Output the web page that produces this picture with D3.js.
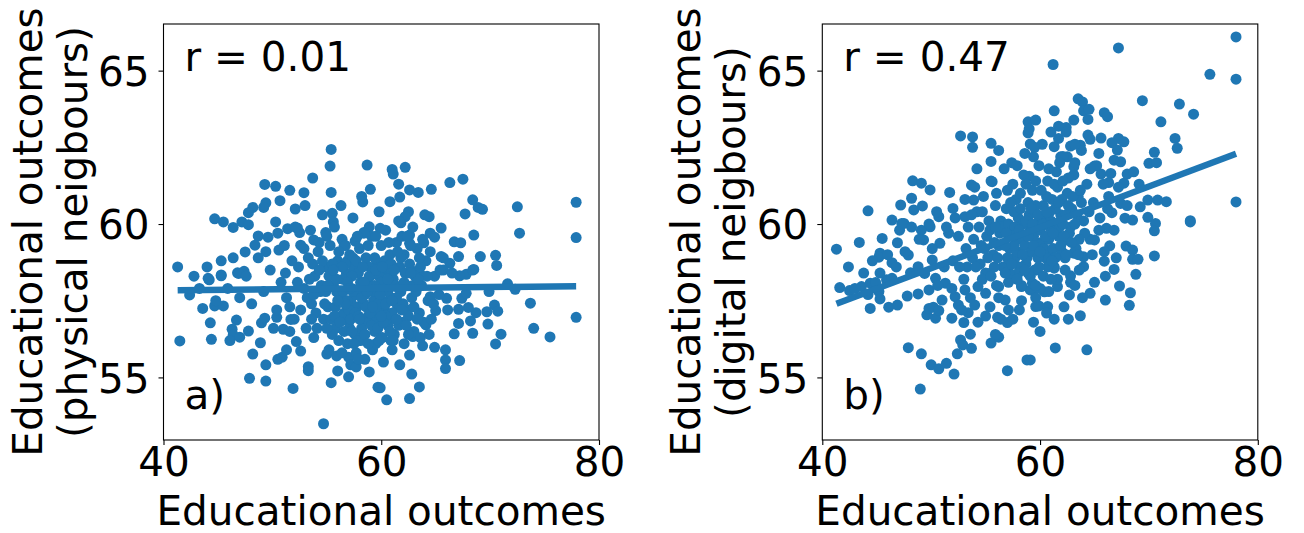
<!DOCTYPE html>
<html>
<head>
<meta charset="utf-8">
<script src="https://cdn.jsdelivr.net/npm/d3@7"></script>
<style>
  body { margin: 0; background: #fff; }
  svg text { font-family: "DejaVu Sans", sans-serif; fill: #000; }
</style>
</head>
<body>
<div id="chart"></div>
<script>
// x ticks / y ticks shared by both panels
var xTicks = [40, 60, 80];
var yTicks = [55, 60, 65];

// fitted lines
var physicalFit = { slope: 0.0035, intercept: 57.70 };
var digitalFit = { slope: 0.1332, intercept: 51.90 };

var physicalR = "r = 0.01";
var digitalR = "r = 0.47";

// panel a) : educational outcomes vs physical neighbours
var physicalPts = [
  [55.4,62.43],[55.3,61.89],[58.7,61.92],[53.7,61.5],[49.3,61.29],[50.3,61.23],[51.6,61.1],[52.9,61.02],
  [55.4,61.03],[59.0,61.13],[58.3,60.72],[50.7,60.76],[49.4,60.69],[49.2,60.54],[48.2,60.54],[47.8,60.37],
  [52.1,60.49],[55.5,60.35],[55.6,60.07],[44.7,60.17],[45.5,60.07],[46.4,59.89],[47.2,60.07],[47.8,59.98],
  [50.3,60.07],[41.3,58.6],[44.1,58.23],[45.3,58.34],[46.8,58.41],[47.4,58.46],[48.7,59.61],[48.4,59.31],
  [47.5,59.09],[49.6,59.57],[50.5,59.7],[51.4,59.85],[52.3,59.87],[52.5,59.72],[53.8,59.48],[54.9,59.72],
  [52.6,59.31],[50.6,59.15],[49.4,59.1],[56.6,59.31],[57.6,59.44],[58.4,59.72],[58.9,59.91],[56.9,58.8],
  [61.0,61.78],[61.1,61.63],[62.2,61.85],[61.6,61.3],[62.6,61.11],[63.4,61.03],[64.6,61.13],[66.3,61.35],
  [67.5,61.46],[60.8,60.73],[61.7,60.88],[68.4,60.79],[68.9,60.54],[69.3,60.48],[72.5,60.56],[77.9,60.71],
  [62.5,60.4],[62.2,60.24],[61.8,60.04],[64.4,60.24],[67.7,60.33],[65.5,59.87],[64.5,59.7],[64.9,59.57],
  [62.6,59.64],[62.6,59.37],[68.5,59.64],[72.7,59.7],[77.9,59.56],[66.7,59.42],[67.3,59.39],[63.9,59.39],
  [67.1,58.94],[69.1,58.94],[70.5,58.98],[70.6,58.65],[68.5,58.52],[63.0,58.45],[63.7,58.32],[65.5,58.94],
  [66.3,58.72],[59.9,59.86],
  [42.4,57.69],[43.6,57.25],[44.3,56.78],[41.5,56.19],[44.4,56.24],[44.7,57.33],[45.5,57.33],[46.7,56.87],
  [46.3,56.57],[46.4,56.38],[47.8,56.51],[46.1,56.2],[47.0,56.31],[48.9,56.13],[48.2,55.76],[49.4,55.41],
  [47.9,54.97],[49.4,54.88],[51.9,54.64],[54.7,53.49],[50.5,55.59],[50.9,55.66],[51.3,55.9],[53.3,55.35],
  [53.3,55.22],[52.2,56.17],[52.6,55.86],[55.0,55.76],[55.9,55.7],[55.4,54.83],[57.0,55.66],[57.2,55.41],
  [56.0,55.21],[57.0,55.02],[57.7,55.34],[58.5,55.59],[58.9,55.18],[59.7,54.68],[44.2,58.18],[45.3,58.31],
  [46.9,58.39],[49.0,56.78],[49.3,56.93],[50.4,56.96],[51.7,56.89],[51.0,56.57],
  [73.7,57.42],[77.9,56.96],[74.0,56.6],[75.5,56.32],[71.6,58.05],[72.3,57.87],[69.9,57.8],[70.4,57.36],
  [70.7,57.16],[69.7,57.14],[69.8,56.74],[71.0,56.41],[70.5,56.09],[68.4,56.44],[68.2,56.84],[68.7,57.11],
  [68.0,57.28],[67.1,57.22],[67.1,56.76],[66.7,56.42],[67.2,55.55],[65.9,55.9],[65.9,55.57],[65.9,55.29],
  [65.0,57.18],[64.1,56.71],[64.9,55.98],[63.8,56.03],[61.7,55.41],[62.8,55.11],[63.5,54.69],[62.6,54.31],
  [60.5,54.27],[59.9,54.66],[64.5,57.63],[66.0,57.58],[67.4,57.58],[67.8,57.74],[67.8,58.36],[67.2,58.31],
  [65.7,58.5],[68.4,58.5],[62.9,56.33],[62.6,55.73],
  [52.4,58.6],[52.9,57.9],[53.3,58.9],[53.6,57.4],[53.9,58.3],[54.2,59.1],[54.4,57.8],[54.7,56.9],
  [54.9,58.6],[55.1,57.3],[55.3,59.3],[55.6,58.0],[55.8,56.6],[56.0,58.8],[56.2,57.6],[56.4,59.5],
  [56.6,57.1],[56.8,58.4],[57.0,56.8],[57.1,59.0],[57.3,57.9],[57.5,58.6],[57.6,56.4],[57.8,57.3],
  [58.0,59.2],[58.1,58.1],[58.3,56.9],[58.5,57.7],[58.6,58.9],[58.8,57.0],[59.0,58.3],[59.1,59.6],
  [59.3,57.5],[59.4,56.5],[59.6,58.7],[59.7,57.9],[59.9,56.9],[60.0,59.3],[60.2,58.0],[60.3,57.2],
  [60.5,58.5],[60.6,56.7],[60.8,59.0],[60.9,57.6],[61.1,58.2],[61.2,56.4],[61.4,59.4],[61.5,57.3],
  [61.7,58.6],[61.8,57.8],[62.0,56.8],[62.1,59.0],[62.3,58.0],[62.4,57.2],[62.6,58.7],[62.8,57.6],
  [63.0,56.5],[63.1,58.3],[63.3,59.2],[63.5,57.1],[63.7,58.0],[63.9,56.8],[64.1,58.8],[64.3,57.5],
  [64.5,59.1],[52.0,56.9],[52.6,57.2],[53.1,56.6],[53.8,56.3],[54.5,58.0],[55.0,59.6],[55.4,56.9],
  [56.1,56.2],[56.7,59.3],[57.2,57.5],[57.9,56.2],[58.4,59.7],[58.9,58.6],[59.5,57.2],[60.1,56.3],
  [60.7,57.9],[61.3,56.9],[61.9,59.6],[62.5,56.4],[63.2,57.8],[63.8,59.5],[64.6,56.9],[64.9,58.3],
  [65.3,57.7],[65.7,58.9],[66.1,57.2],[66.5,58.4],[50.8,58.1],[51.3,57.6],[51.8,58.8],[51.1,59.3],
  [50.4,57.2],[49.8,58.5],[49.2,57.8],[48.7,58.9],[48.1,57.4],[47.6,58.3],[47.0,57.6],[46.4,58.9],
  [45.9,57.9],[45.3,58.8],[44.8,57.5],[44.0,58.6],[43.3,57.9],[42.8,58.3],[50.1,56.6],[51.6,56.5],
  [53.5,59.8],[55.7,59.9],[57.4,60.2],[59.8,60.4],[61.6,60.1],[56.3,60.6],[54.6,60.3],[58.2,60.9],
  [60.4,59.8],[62.9,59.9],[64.0,60.3],[52.1,59.9],[53.0,60.6],[59.2,55.9],[57.7,55.8],[61.0,55.9],
  [55.2,55.9],[56.9,56.1],
  [53.2,57.6],[53.7,58.7],[54.1,56.6],[54.3,59.4],[54.8,57.4],[55.2,58.3],[55.5,56.4],[55.9,57.8],
  [56.1,59.1],[56.3,57.0],[56.5,58.2],[56.9,57.5],[57.1,56.6],[57.4,58.9],[57.7,57.7],[57.9,58.4],
  [58.2,56.6],[58.4,57.4],[58.7,58.1],[58.9,56.8],[59.2,57.8],[59.4,58.9],[59.6,56.9],[59.8,58.3],
  [60.1,57.5],[60.3,58.8],[60.5,56.9],[60.6,57.8],[60.9,58.7],[61.0,57.1],[61.3,58.0],[61.6,56.7],
  [61.8,58.9],[62.0,57.4],[62.2,58.4],[62.5,57.0],[62.7,59.3],[62.9,58.0],[63.3,56.9],[63.6,58.6],
  [57.0,57.2],[57.6,57.1],[58.0,57.9],[58.6,57.3],[59.0,57.1],[59.7,57.4],[60.4,57.0],[60.0,58.1],
  [60.8,58.3],[61.4,57.6],[57.3,58.3],[56.5,57.8],[55.8,57.3],[55.1,58.0],[54.6,58.8],[54.0,57.1],
  [53.4,58.2],[52.9,59.2],[52.3,58.1],[51.6,57.3],[51.2,58.4],[58.8,59.3],[59.5,59.6],[60.7,59.4],
  [57.8,59.6],[56.7,58.7],[55.5,58.7],[61.5,59.1],[62.4,59.6],[63.5,58.9],[64.2,58.3],[64.8,57.4],
  [65.4,58.5],[62.1,56.1],[60.9,56.2],[59.5,56.1],[58.1,56.2],[56.6,56.5],[55.0,56.6],[53.6,56.9],
  [63.6,56.3],[64.4,56.4],[57.9,55.6],[60.2,55.5],[56.4,55.8],
  [55.7,57.0],[55.9,58.2],[56.2,56.8],[56.4,58.6],[56.7,57.4],[56.9,58.1],[57.2,56.9],[57.4,57.8],
  [57.5,56.1],[57.7,58.8],[57.9,57.0],[58.2,57.6],[58.3,58.6],[58.5,56.4],[58.7,57.8],[58.9,58.3],
  [59.1,56.7],[59.2,57.3],[59.4,58.0],[59.5,58.5],[59.7,56.6],[59.9,57.7],[60.1,58.6],[60.2,56.8],
  [60.4,57.4],[60.6,58.2],[60.8,56.5],[61.0,57.5],[61.2,58.5],[61.4,56.9],[61.6,57.9],[61.9,57.2],
  [62.1,58.1],[62.3,56.7],[57.3,56.5],[58.0,56.9],[58.8,56.1],[59.8,56.2],[56.0,57.5],[55.6,58.5],
  [54.9,57.8],[54.3,58.5],[53.8,57.7],[63.0,57.3],[63.4,58.2],[62.7,58.4],[61.1,56.2],[60.0,57.0],
  [58.4,58.1],[57.1,57.9]
];

// panel b) : educational outcomes vs digital neighbours
var digitalPts = [
  [52.7,62.87],[53.8,62.84],[53.8,62.5],[55.5,62.63],[55.5,62.04],[58.9,63.33],[58.9,62.97],[59.1,62.61],
  [59.4,62.19],[59.0,61.56],[48.3,61.41],[49.1,61.33],[49.9,61.11],[44.2,60.43],[46.4,60.13],[47.5,60.02],
  [47.2,60.62],[48.2,60.84],[48.4,60.46],[49.2,60.59],[51.7,61.03],[52.0,60.51],[53.7,61.27],[53.9,60.78],
  [55.6,61.38],[53.1,60.24],[50.7,60.24],[49.9,59.91],
  [67.2,65.74],[61.2,65.2],[75.6,64.88],[78.0,64.72],[78.0,66.1],[69.4,64.02],[72.8,63.91],[74.1,63.58],
  [71.1,63.33],[63.5,64.08],[63.9,63.98],[64.0,63.69],[64.5,63.74],[64.4,63.41],[61.3,63.69],[59.6,63.39],
  [65.9,63.63],[66.2,63.5],[61.7,63.19],[62.4,63.15],[63.1,63.39],[61.7,62.79],[61.3,62.52],[64.6,62.76],
  [62.8,62.54],[63.7,62.57],[67.2,62.79],[67.7,62.68],[66.6,62.65],[67.1,62.41],[65.4,62.3],[72.4,62.79],
  [72.6,62.47],[70.5,62.34],[70.0,61.98],[70.7,62.0],[61.9,62.19],[62.5,62.19],[63.1,61.87],[65.0,61.89],
  [66.8,62.08],[67.4,62.03],[65.6,61.63],[66.5,61.65],[66.3,61.35],[68.0,61.63],[68.6,61.7],[67.7,61.33],
  [67.4,60.67],[69.2,60.56],[69.9,60.78],[70.8,60.78],[71.6,60.73],[78.0,60.72],[66.6,60.37],[67.8,60.19],
  [68.5,60.13],[69.9,60.22],[70.6,60.02],[73.8,60.11],
  [41.3,59.18],[41.6,57.93],[42.5,57.83],[43.6,57.96],[44.4,58.07],[44.9,58.09],[45.2,57.8],[45.3,57.56],
  [44.4,57.25],[46.1,57.29],[46.9,57.36],[47.8,57.65],[48.8,57.72],[45.5,59.53],[45.3,59.05],[45.2,58.92],
  [46.4,58.74],[46.9,59.39],[47.1,59.8],[47.3,60.02],[47.9,58.99],[48.1,58.41],[45.9,58.18],[46.4,58.23],
  [47.9,55.97],[49.1,55.77],[50.0,55.41],[50.7,55.28],[51.4,55.46],[52.1,55.11],[52.4,55.77],[49.0,54.62],
  [52.7,56.22],[52.9,56.06],[53.7,55.95],[53.6,56.41],[55.5,56.12],[56.2,56.31],[57.0,55.22],[58.8,55.57],
  [57.0,56.79],[56.1,56.96],[49.6,57.04],[50.4,56.93],[49.8,57.25],[50.2,57.29],[50.7,57.18],[51.9,56.93],
  [53.0,56.79],[53.4,57.11],[54.0,57.36],[49.1,59.8],[49.3,59.48],[50.1,58.83],[50.8,59.37],[51.6,59.7],
  [48.8,58.61],[49.4,58.39],[50.4,58.23],[51.3,58.07],[52.2,57.63],[49.8,57.85],[51.0,57.52],[52.5,57.36],
  [53.1,57.85],[54.3,57.96],[55.3,58.39],[55.0,57.74],[56.2,57.96],[56.8,57.52],[57.7,58.28],[58.3,57.96],
  [59.3,57.85],[59.6,57.31],
  [73.8,60.07],[70.5,59.78],[70.5,58.96],[67.9,59.28],[68.5,59.15],[68.5,58.85],[69.0,58.85],[68.8,58.36],
  [66.1,59.86],[66.4,59.29],[65.9,58.79],[66.8,58.52],[67.3,57.98],[68.3,57.76],[68.2,57.35],[64.6,57.74],
  [66.0,57.52],[63.7,57.01],[61.3,56.9],[61.4,55.96],[64.3,55.9],[59.1,55.57],[64.0,58.61],[62.7,57.69],
  [60.7,57.31],[59.9,57.33],[60.4,57.79],[59.1,57.85],[61.3,58.56],[62.8,58.31],[61.6,57.96],[65.0,59.48],
  [64.0,58.93],[63.1,59.05],[62.5,59.48],[61.0,59.05],[59.7,58.5],[59.3,58.07],
  [52.0,58.8],[52.5,59.6],[53.0,58.2],[53.4,59.9],[53.8,58.9],[54.2,60.4],[54.6,59.3],[55.0,58.4],
  [55.3,60.1],[55.7,59.0],[56.0,61.0],[56.3,59.7],[56.6,58.6],[56.9,60.5],[57.2,59.2],[57.5,61.3],
  [57.7,58.9],[58.0,60.2],[58.2,59.5],[58.5,61.6],[58.7,58.7],[58.9,60.7],[59.1,59.8],[59.3,61.1],
  [59.5,58.5],[59.7,60.0],[59.9,61.9],[60.1,59.4],[60.3,60.6],[60.5,58.9],[60.7,61.4],[60.9,59.9],
  [61.1,60.8],[61.3,58.6],[61.5,61.7],[61.7,59.6],[61.9,60.3],[62.1,62.2],[62.3,58.9],[62.5,61.0],
  [62.7,59.7],[62.9,60.5],[63.1,61.6],[63.3,59.2],[63.5,60.9],[63.8,62.4],[64.0,60.1],[64.3,61.3],
  [64.6,59.5],[64.9,60.7],[65.2,61.9],[65.5,60.2],[65.9,59.1],[66.3,60.9],[66.8,59.8],[67.2,61.2],
  [58.3,58.0],[57.1,58.1],[56.2,57.6],[55.4,57.3],[54.7,58.2],[53.6,57.6],[52.8,57.2],[51.9,57.9],
  [51.2,58.6],[50.6,58.0],[50.1,59.2],[59.6,57.6],[60.8,57.8],[61.6,58.2],[62.8,58.1],[63.6,58.5],
  [60.2,62.6],[58.6,62.3],[57.4,62.0],[61.0,63.0],[62.4,63.0],[56.7,61.8],[55.5,61.4],[54.0,61.2],
  [53.1,60.8],[52.2,60.2],[51.4,59.9],[50.5,60.4],[49.8,60.0],[48.9,59.5],[48.2,59.9],[47.6,59.1],
  [46.8,58.6],[46.0,59.0],[45.3,58.4],[44.6,58.8],[43.8,58.4],[43.0,57.9],[42.4,58.6],[43.4,59.4],
  [44.2,57.7],[58.1,57.2],[59.4,56.8],[60.0,56.5],[57.5,56.9],[55.9,56.4],[54.3,56.8],[62.2,57.3],
  [63.9,57.6],[65.0,58.1],[66.0,58.3],[67.0,58.9],[68.0,60.6],[69.1,61.3],[65.6,62.8],[64.4,62.9],
  [63.2,62.6],[59.0,63.1],[57.8,60.8],[56.4,60.1],[55.1,59.6],[54.4,59.9],[53.3,58.6],
  [55.8,58.6],[56.2,59.3],[56.6,60.0],[57.0,58.9],[57.3,59.7],[57.6,60.4],[57.9,59.1],[58.1,58.6],
  [58.4,60.0],[58.6,59.3],[58.8,58.9],[59.0,60.3],[59.2,59.1],[59.4,59.6],[59.6,60.6],[59.8,58.9],
  [60.0,59.8],[60.2,60.2],[60.4,59.2],[60.6,60.9],[60.8,59.5],[61.0,60.1],[61.2,59.2],[61.4,60.5],
  [61.6,61.2],[61.8,59.9],[62.0,60.8],[62.2,59.6],[62.4,60.3],[62.6,61.5],[62.8,59.9],[63.0,60.9],
  [63.4,60.3],[63.7,61.1],[64.1,59.7],[64.5,60.4],[59.1,58.3],[60.3,58.3],[58.0,58.4],[57.2,58.4],
  [56.0,58.0],[55.2,58.9],[54.5,58.7],[53.9,59.5],[53.2,59.2],[52.6,58.6],[55.9,60.6],[57.0,61.1],
  [58.2,61.0],[59.6,61.4],[60.8,61.8],[61.8,62.0],[63.2,62.0],[64.6,61.8],[65.8,61.3],[59.5,62.5],
  [57.9,61.9],[56.2,62.4],[54.8,60.9],[54.2,61.8],[60.0,57.9],[61.0,58.2],[62.3,58.5],[63.2,58.0],
  [64.8,59.0],[65.4,59.8],[66.2,60.5],[62.0,59.1],[63.6,59.5],[58.9,59.6],[57.6,59.3],[56.8,59.3],
  [55.4,59.8],[54.7,60.4],[58.3,57.5],[57.1,57.2],[56.4,56.9],[55.0,57.0],[60.6,57.1],[62.6,56.9],
  [55.5,58.3],[55.8,59.4],[56.1,58.9],[56.5,59.9],[56.8,58.4],[57.1,60.0],[57.4,58.7],[57.7,59.9],
  [57.9,58.2],[58.2,60.5],[58.4,59.0],[58.7,60.1],[58.9,58.4],[59.2,60.5],[59.4,59.3],[59.6,58.0],
  [59.8,60.3],[60.0,59.1],[60.3,60.0],[60.5,59.6],[60.7,58.6],[60.9,60.4],[61.2,59.7],[61.4,58.9],
  [61.7,60.7],[61.9,59.3],[62.1,60.0],[62.4,59.0],[62.6,60.6],[62.9,59.4],[63.2,60.0],[63.5,59.0],
  [57.5,59.6],[58.6,58.5],[59.9,58.6],[61.1,58.8],[56.9,59.7],[58.1,59.8],[59.3,60.0],[60.6,60.4],
  [60.1,61.1],[61.3,61.3],[58.7,61.3],[57.3,60.7],[55.9,59.9],[54.9,59.2],[54.1,58.6],[53.7,60.3],
  [62.1,61.4],[63.8,60.7]
];

var W = 1304, H = 533;
var plotTop = 24, plotBottom = 440;
var fontSize = 40.5;
var blue = "#1f77b4";

var svg = d3.select("#chart").append("svg")
    .attr("width", W)
    .attr("height", H);

function drawPanel(left, pts, fit, line2, rText, tag) {
    var right = left + 435.5;
    var x = d3.scaleLinear().domain([40, 80]).range([left, right]);
    var y = d3.scaleLinear().domain([52.96, 66.52]).range([plotBottom, plotTop]);
    var g = svg.append("g");

    g.append("g")
        .attr("transform", "translate(0," + plotBottom + ")")
        .call(d3.axisBottom(x).tickValues(xTicks).tickSize(5).tickPadding(2))
        .call(function(a) {
            a.select(".domain").remove();
            a.selectAll("line").attr("stroke", "#000").attr("stroke-width", 1.1);
            a.selectAll("text").attr("font-size", fontSize).attr("dy", "0.71em");
        });

    g.append("g")
        .attr("transform", "translate(" + left + ",0)")
        .call(d3.axisLeft(y).tickValues(yTicks).tickSize(5).tickPadding(9))
        .call(function(a) {
            a.select(".domain").remove();
            a.selectAll("line").attr("stroke", "#000").attr("stroke-width", 1.1);
            a.selectAll("text").attr("font-size", fontSize).attr("dy", "0.36em");
        });

    g.append("g").selectAll("circle")
        .data(pts)
        .enter().append("circle")
        .attr("cx", function(d) { return x(d[0]); })
        .attr("cy", function(d) { return y(d[1]); })
        .attr("r", 5.5)
        .attr("fill", blue);

    var xExt = d3.extent(pts, function(d) { return d[0]; });
    g.append("line")
        .attr("x1", x(xExt[0])).attr("y1", y(fit.intercept + fit.slope * xExt[0]))
        .attr("x2", x(xExt[1])).attr("y2", y(fit.intercept + fit.slope * xExt[1]))
        .attr("stroke", blue)
        .attr("stroke-width", 6.5);

    g.append("rect")
        .attr("x", left).attr("y", plotTop)
        .attr("width", right - left).attr("height", plotBottom - plotTop)
        .attr("fill", "none")
        .attr("stroke", "#000")
        .attr("stroke-width", 1.1);

    g.append("text")
        .attr("x", left + 21).attr("y", 71)
        .attr("font-size", fontSize)
        .text(rText);

    g.append("text")
        .attr("x", left + 21).attr("y", 409)
        .attr("font-size", fontSize)
        .text(tag);

    g.append("text")
        .attr("x", (left + right) / 2).attr("y", 525)
        .attr("text-anchor", "middle")
        .attr("font-size", fontSize)
        .text("Educational outcomes");

    var cy = (plotTop + plotBottom) / 2;
    g.append("text")
        .attr("transform", "translate(" + (left - 122) + "," + cy + ")rotate(-90)")
        .attr("text-anchor", "middle")
        .attr("font-size", fontSize)
        .text("Educational outcomes");
    g.append("text")
        .attr("transform", "translate(" + (left - 77) + "," + cy + ")rotate(-90)")
        .attr("text-anchor", "middle")
        .attr("font-size", fontSize)
        .text(line2);
}

drawPanel(163.5, physicalPts, physicalFit, "(physical neigbours)", physicalR, "a)");
drawPanel(822.3, digitalPts, digitalFit, "(digital neigbours)", digitalR, "b)");
</script>
</body>
</html>
